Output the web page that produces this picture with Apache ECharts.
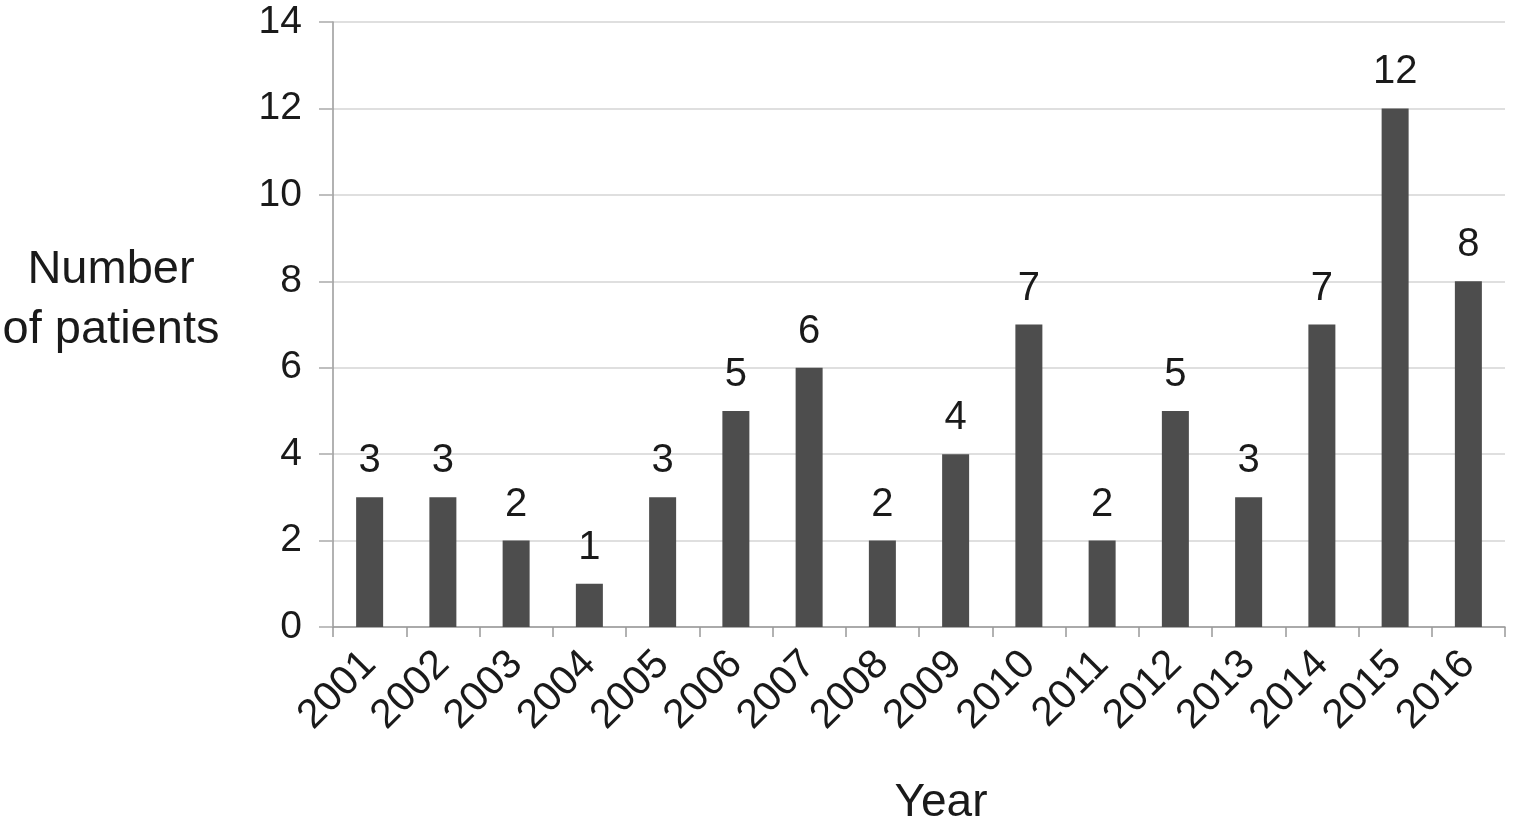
<!DOCTYPE html>
<html><head><meta charset="utf-8">
<script src="https://cdn.jsdelivr.net/npm/echarts@6/dist/echarts.min.js"></script>
<style>html,body{margin:0;padding:0;background:#fff}#c{width:1525px;height:830px}</style>
</head><body><div id="c"></div>
<script>
const years = ['2001','2002','2003','2004','2005','2006','2007','2008','2009','2010','2011','2012','2013','2014','2015','2016'];
const patients = [3,3,2,1,3,5,6,2,4,7,2,5,3,7,12,8];
const yTicks = [0,2,4,6,8,10,12,14];
const font = 'Liberation Sans';
const chart = echarts.init(document.getElementById('c'));
chart.setOption({
  animation:false,
  grid:{left:333,right:20,top:22,bottom:203,containLabel:false},
  graphic:[
    {type:'text',x:111,y:300,style:{text:'Number\nof patients',align:'center',verticalAlign:'middle',fontSize:47,fontFamily:font,fill:'#1a1a1a',lineHeight:60}},
    {type:'text',x:941,y:803,style:{text:'Year',align:'center',verticalAlign:'middle',fontSize:46,fontFamily:font,fill:'#1a1a1a'}}
  ],
  xAxis:{type:'category',data:years,boundaryGap:true,
    axisLine:{lineStyle:{color:'#999',width:1.5}},
    axisTick:{show:true,length:10,alignWithLabel:false,lineStyle:{color:'#999',width:1.5}},
    axisLabel:{rotate:45,fontSize:41,fontFamily:font,color:'#1a1a1a',margin:31,interval:0}},
  yAxis:{type:'value',min:0,max:14,interval:2,
    axisLine:{show:true,lineStyle:{color:'#999',width:1.5}},
    axisTick:{show:true,length:14,lineStyle:{color:'#aaa',width:1.5}},
    splitLine:{lineStyle:{color:'#d4d4d4',width:1.5}},
    axisLabel:{fontSize:39,fontFamily:font,color:'#1a1a1a',margin:31,
      formatter:v=>yTicks.includes(v)?String(v):''}},
  series:[{type:'bar',data:patients,barWidth:27,itemStyle:{color:'#4d4d4d'},
    label:{show:true,position:'top',distance:16,fontSize:40,fontFamily:font,color:'#1a1a1a'}}]
});
</script></body></html>
